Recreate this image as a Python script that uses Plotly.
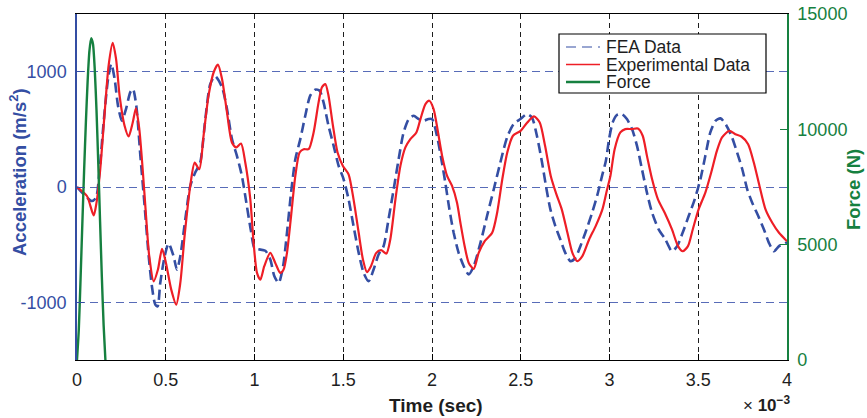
import plotly.graph_objects as go

# ---------------- data ----------------
# time in units of 1e-3 s (axis shows "x 10^-3")
fea_time = [0.000, 0.047, 0.084, 0.107, 0.126, 0.150, 0.175, 0.193, 0.212, 0.231,
            0.253, 0.276, 0.300, 0.315, 0.334, 0.357, 0.381, 0.404, 0.422, 0.441,
            0.454, 0.469, 0.494, 0.516, 0.544, 0.563, 0.582, 0.610, 0.638, 0.666,
            0.694, 0.723, 0.751, 0.778, 0.817, 0.845, 0.873, 0.901, 0.929, 0.957,
            0.980, 1.000, 1.023, 1.061, 1.089, 1.112, 1.136, 1.161, 1.183, 1.206,
            1.230, 1.258, 1.286, 1.314, 1.342, 1.367, 1.389, 1.417, 1.446, 1.474,
            1.502, 1.530, 1.558, 1.587, 1.615, 1.643, 1.671, 1.699, 1.727, 1.755,
            1.784, 1.812, 1.840, 1.869, 1.897, 1.925, 1.953, 1.980, 2.000, 2.028,
            2.056, 2.075, 2.098, 2.122, 2.150, 2.179, 2.207, 2.235, 2.273, 2.310,
            2.348, 2.385, 2.423, 2.460, 2.498, 2.535, 2.563, 2.591, 2.620, 2.642,
            2.667, 2.695, 2.723, 2.751, 2.780, 2.808, 2.836, 2.864, 2.902, 2.930,
            2.958, 2.980, 2.998, 3.018, 3.042, 3.070, 3.098, 3.127, 3.155, 3.183,
            3.211, 3.240, 3.277, 3.315, 3.352, 3.381, 3.412, 3.446, 3.480, 3.512,
            3.540, 3.568, 3.597, 3.625, 3.654, 3.687, 3.719, 3.748, 3.776, 3.804,
            3.838, 3.870, 3.898, 3.927, 3.955, 4.000]
fea_accel = [0, -78, -122, -93, 125, 560, 937, 1067, 937, 705,
             574, 676, 821, 850, 705, 270, -165, -600, -861, -1020,
             -1035, -832, -600, -490, -600, -716, -600, -281, 9, 125,
             212, 589, 893, 960, 865, 676, 415, 270, 96, -165,
             -380, -530, -540, -553, -629, -774, -832, -687, -397, -49,
             241, 415, 618, 792, 844, 835, 734, 531, 357, 183,
             67, -107, -339, -571, -745, -817, -716, -585, -513, -281,
             -20, 241, 473, 589, 618, 589, 575, 589, 589, 444,
             212, 38, -194, -397, -571, -687, -759, -687, -484, -252,
             -20, 212, 430, 545, 589, 632, 603, 444, 212, 9,
             -194, -339, -455, -571, -643, -614, -513, -397, -223, -78,
             96, 230, 420, 560, 624, 632, 589, 502, 357, 154,
             -49, -223, -368, -455, -557, -513, -397, -252, -107, 67,
             270, 473, 574, 595, 545, 444, 299, 154, -20, -136,
             -252, -368, -484, -557, -513, -480]

exp_time = [0.000, 0.056, 0.094, 0.110, 0.131, 0.156, 0.178, 0.201, 0.220, 0.240,
            0.268, 0.291, 0.314, 0.332, 0.351, 0.370, 0.389, 0.407, 0.432, 0.456,
            0.479, 0.501, 0.531, 0.559, 0.582, 0.606, 0.638, 0.663, 0.689, 0.713,
            0.741, 0.770, 0.794, 0.817, 0.845, 0.873, 0.897, 0.924, 0.948, 0.976,
            0.995, 1.014, 1.033, 1.055, 1.089, 1.117, 1.145, 1.164, 1.183, 1.206,
            1.230, 1.254, 1.277, 1.305, 1.333, 1.361, 1.380, 1.399, 1.417, 1.442,
            1.468, 1.498, 1.530, 1.558, 1.587, 1.611, 1.634, 1.656, 1.686, 1.713,
            1.743, 1.765, 1.794, 1.822, 1.850, 1.878, 1.912, 1.935, 1.963, 1.985,
            2.009, 2.034, 2.057, 2.085, 2.113, 2.141, 2.160, 2.184, 2.207, 2.235,
            2.263, 2.297, 2.339, 2.367, 2.396, 2.424, 2.456, 2.499, 2.537, 2.575,
            2.607, 2.637, 2.669, 2.701, 2.731, 2.763, 2.791, 2.819, 2.847, 2.885,
            2.922, 2.960, 2.985, 3.005, 3.029, 3.061, 3.089, 3.127, 3.160, 3.187,
            3.211, 3.240, 3.273, 3.311, 3.352, 3.386, 3.412, 3.442, 3.469, 3.502,
            3.540, 3.573, 3.605, 3.634, 3.675, 3.709, 3.743, 3.781, 3.813, 3.845,
            3.879, 3.917, 3.955, 4.000]
exp_accel = [0, -78, -246, -136, 154, 647, 1053, 1250, 1111, 792,
             531, 438, 560, 682, 502, 154, -252, -600, -818, -716,
             -536, -658, -890, -1020, -832, -426, 9, 212, 154, 444,
             792, 995, 1061, 937, 647, 386, 343, 377, 212, -100,
             -484, -745, -803, -687, -571, -658, -745, -716, -571, -252,
             96, 299, 328, 328, 473, 734, 865, 893, 792, 531,
             299, 183, 110, -107, -397, -629, -739, -687, -571, -548,
             -577, -455, -107, 183, 343, 415, 473, 589, 719, 748,
             676, 473, 270, 96, 9, -136, -310, -513, -658, -710,
             -571, -470, -397, -223, 67, 299, 444, 487, 560, 612,
             560, 357, 96, -64, -194, -397, -571, -643, -600, -455,
             -339, -194, -30, 96, 328, 473, 502, 502, 507, 444,
             270, 67, -107, -223, -368, -513, -557, -513, -368, -194,
             -49, 125, 313, 430, 487, 458, 438, 371, 212, 9,
             -194, -310, -397, -470]

force_time = [0.000, 0.010, 0.020, 0.030, 0.040, 0.050, 0.060, 0.070, 0.080,
              0.090, 0.100, 0.110, 0.120, 0.130, 0.140, 0.150, 0.160]
force_val = [0, 1300, 3500, 5900, 8200, 10300, 12100, 13400, 13950,
             13700, 12600, 10800, 8500, 6000, 3600, 1500, 0]

x_ticks = [0, 0.5, 1, 1.5, 2, 2.5, 3, 3.5, 4]
x_tick_labels = ["0", "0.5", "1", "1.5", "2", "2.5", "3", "3.5", "4"]
accel_ticks = [-1000, 0, 1000]
accel_tick_labels = ["-1000", "0", "1000"]
force_ticks = [0, 5000, 10000, 15000]
force_tick_labels = ["0", "5000", "10000", "15000"]
series_names = ["FEA Data", "Experimental Data", "Force"]

# ---------------- style ----------------
BLUE = "rgb(52,78,163)"
BLUE_GRID = "rgb(88,108,184)"
GREEN = "rgb(22,128,64)"
RED = "rgb(238,30,38)"
DARK = "rgb(30,30,30)"
FONT = "Liberation Sans, Arial, Helvetica, sans-serif"

fig = go.Figure()
fig.add_trace(go.Scatter(x=fea_time, y=fea_accel, name=series_names[0], mode="lines",
                         line=dict(color=BLUE, width=2.6, dash="10px,5px", shape="spline", smoothing=0.7)))
fig.add_trace(go.Scatter(x=exp_time, y=exp_accel, name=series_names[1], mode="lines",
                         line=dict(color=RED, width=2.2, shape="spline", smoothing=0.7)))
fig.add_trace(go.Scatter(x=force_time, y=force_val, name=series_names[2], mode="lines", yaxis="y2",
                         line=dict(color=GREEN, width=2.4, shape="spline", smoothing=0.6)))

# the page's body margin is removed (post_script below), so figure = page pixels
W, H = 867, 418
PL, PR, PT, PB = 77, 787, 14, 360          # plot area in page pixels
L, T, R, B = PL, PT, W - PR, H - PB
pw, ph = PR - PL, PB - PT

def px(x):
    return (x - PL) / pw

def py(y):
    return (PB - y) / ph

fig.update_layout(
    width=W, height=H,
    margin=dict(l=L, r=R, t=T, b=B, pad=0, autoexpand=False),
    paper_bgcolor="white", plot_bgcolor="white",
    font=dict(family=FONT, size=18, color="black"),
    showlegend=False,
    xaxis=dict(range=[0, 4], tickvals=x_ticks, ticktext=x_tick_labels, automargin=False,
               showline=True, linecolor="black", linewidth=1.2, mirror=True,
               ticks="inside", ticklen=6, tickcolor="black", ticklabelstandoff=3,
               ticklabeloverflow="allow",
               showgrid=True, gridcolor=DARK, gridwidth=1, griddash="5px,4px",
               zeroline=False, tickfont=dict(size=18, color=DARK)),
    yaxis=dict(range=[-1500, 1500], tickvals=accel_ticks, ticktext=accel_tick_labels,
               automargin=False,
               showline=True, linecolor=BLUE, linewidth=1.5,
               ticks="inside", ticklen=7, tickcolor=BLUE, ticklabelstandoff=5,
               ticklabeloverflow="allow",
               showgrid=True, gridcolor=BLUE_GRID, gridwidth=1, griddash="8px,5px",
               zeroline=False, tickfont=dict(size=18, color=BLUE)),
    yaxis2=dict(range=[0, 15000], tickvals=force_ticks, ticktext=force_tick_labels,
                overlaying="y", side="right", automargin=False,
                showline=True, linecolor=GREEN, linewidth=1.5,
                ticks="inside", ticklen=7, tickcolor=GREEN, ticklabelstandoff=5,
                ticklabeloverflow="allow",
                showgrid=False, zeroline=False, tickfont=dict(size=18, color=GREEN)),
)

# ---- compact MATLAB-style legend (box, samples, labels) ----
leg_x0, leg_x1, leg_y0, leg_y1 = 559, 766, 34, 93
row_y = [47, 64.5, 82]
sample_styles = [dict(color=BLUE, width=1.2, dash="10px,6px"),
                 dict(color=RED, width=1.4),
                 dict(color=GREEN, width=2.6)]
fig.add_shape(type="rect", xref="paper", yref="paper",
              x0=px(leg_x0), x1=px(leg_x1), y0=py(leg_y1), y1=py(leg_y0),
              line=dict(color="black", width=1.2), fillcolor="white", layer="above")
for name, ry, st in zip(series_names, row_y, sample_styles):
    fig.add_shape(type="line", xref="paper", yref="paper",
                  x0=px(566), x1=px(600), y0=py(ry), y1=py(ry), line=st, layer="above")
    fig.add_annotation(text=name, x=px(604), y=py(ry), xref="paper", yref="paper",
                       xanchor="left", yanchor="middle", showarrow=False,
                       font=dict(size=17.5, color=DARK))

def label(text, x, y, size, color, angle=0):
    fig.add_annotation(text=text, textangle=angle, x=px(x), y=py(y),
                       xref="paper", yref="paper", xanchor="center", yanchor="middle",
                       showarrow=False, font=dict(size=size, color=color))

label("<b>Acceleration (m/s<sup>2</sup>)</b>", 18, 172, 18.5, BLUE, -90)
label("<b>Force (N)</b>", 853, 190, 18.5, GREEN, -90)
label("<b>Time (sec)</b>", 436, 405, 19, DARK)
label("× <b>10<sup>−3</sup></b>", 767, 404, 17, DARK)

fig.write_html("out.html",
               config={"displayModeBar": False},
               post_script="document.body.style.margin='0px';document.body.style.overflow='hidden';")
